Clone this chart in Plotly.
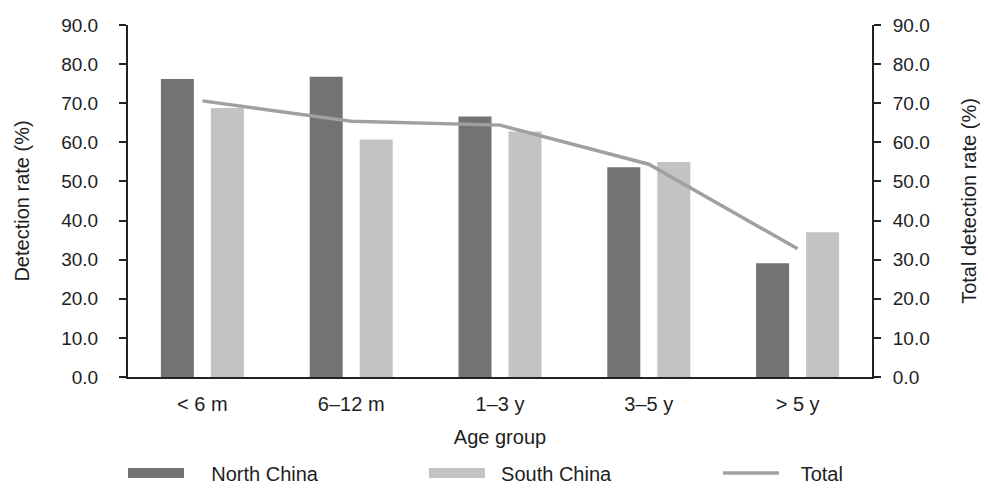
import plotly.graph_objects as go

categories = ["< 6 m", "6–12 m", "1–3 y", "3–5 y", "> 5 y"]
north_china = [76.2, 76.8, 66.6, 53.6, 29.1]
south_china = [68.8, 60.7, 62.8, 55.0, 37.0]
total = [70.6, 65.4, 64.4, 54.4, 32.8]
tick_vals = [0, 10, 20, 30, 40, 50, 60, 70, 80, 90]
tick_text = ["%.1f" % v for v in tick_vals]
series_names = ["North China", "South China", "Total"]

FONT = "Liberation Sans, Arial, sans-serif"
TXT = "#1e1e1e"
C_NORTH = "#737373"
C_SOUTH = "#c3c3c3"
C_TOTAL = "#a0a0a0"
PAD = "\u00a0\u00a0\u00a0"

fig = go.Figure()
fig.add_trace(go.Bar(x=categories, y=north_china, name=series_names[0], legendgroup="n",
                     showlegend=False, marker=dict(color=C_NORTH, line=dict(width=0))))
fig.add_trace(go.Bar(x=categories, y=south_china, name=series_names[1], legendgroup="s",
                     showlegend=False, marker=dict(color=C_SOUTH, line=dict(width=0))))
fig.add_trace(go.Scatter(x=categories, y=total, name=PAD + series_names[2], mode="lines",
                         line=dict(color=C_TOTAL, width=3.5), yaxis="y2", legend="legend3"))
# legend proxies (wide rectangular swatches like the reference)
fig.add_trace(go.Scatter(x=[None], y=[None], name=PAD + "\u00a0" + series_names[0], legendgroup="n",
                         mode="lines", line=dict(color=C_NORTH, width=10), legend="legend",
                         hoverinfo="skip"))
fig.add_trace(go.Scatter(x=[None], y=[None], name="\u00a0\u00a0" + series_names[1], legendgroup="s",
                         mode="lines", line=dict(color=C_SOUTH, width=10), legend="legend2",
                         hoverinfo="skip"))

axis_common = dict(range=[0, 90], tickvals=tick_vals, ticktext=tick_text,
                   showgrid=False, zeroline=False, showline=True, linecolor="#222",
                   linewidth=2, ticks="outside", ticklen=7, tickwidth=2, tickcolor="#222",
                   tickfont=dict(size=19, color=TXT, family=FONT))

leg_common = dict(orientation="h", y=-0.2727, xanchor="left", yanchor="middle",
                  font=dict(size=20, color=TXT, family=FONT), itemwidth=56,
                  bgcolor="rgba(0,0,0,0)")

fig.update_layout(
    width=972, height=476,
    margin=dict(l=120, r=108, t=17, b=107, autoexpand=False),
    paper_bgcolor="white", plot_bgcolor="white",
    barmode="group", bargap=0.328, bargroupgap=0.34,
    font=dict(family=FONT, size=20, color=TXT),
    xaxis=dict(showline=True, linecolor="#222", linewidth=2, ticks="", showgrid=False,
               tickfont=dict(size=20, color=TXT, family=FONT), ticklabelstandoff=8,
               title=dict(text="Age group", font=dict(size=20, color=TXT), standoff=16)),
    yaxis=dict(**axis_common, ticklabelstandoff=17,
               title=dict(text="Detection rate (%)", font=dict(size=20, color=TXT), standoff=26)),
    yaxis2=dict(**axis_common, overlaying="y", side="right", ticklabelstandoff=8,
                title=dict(text="Total detection rate (%)", font=dict(size=20, color=TXT), standoff=44)),
    legend=dict(**leg_common, x=-0.0067),
    legend2=dict(**leg_common, x=0.3978),
    legend3=dict(**leg_common, x=0.793),
    showlegend=True,
)

fig.write_html("out.html")
